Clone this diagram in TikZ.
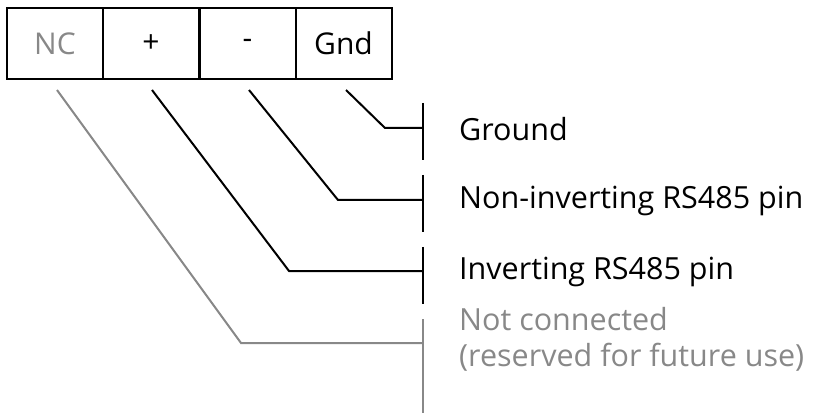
\documentclass[tikz,border=0pt]{standalone}
\usepackage{fontspec}
\setmainfont{Open Sans}
\definecolor{ncgray}{HTML}{888888}
\begin{document}
\begin{tikzpicture}[x=1pt,y=-1pt,
  cell/.style={draw=black,line width=2pt,minimum width=96pt,minimum height=71pt,
    inner sep=0pt,font=\fontsize{30}{36}\selectfont},
  lbl/.style={anchor=west,inner sep=0pt,align=left,font=\fontsize{30.5}{36}\selectfont},
  lead/.style={line width=2pt},
  bar/.style={line width=2pt}]
\useasboundingbox (0,0) rectangle (814,414);

% terminal block
\node[cell,text=ncgray] (c1) at (55,43.5) {NC};
\node[cell] (c2) at (151,43.5) {+};
\node[cell] (c3) at (247.5,43.5) {-};
\node[cell] (c4) at (343.5,43.5) {Gnd};

% lead start points under each terminal
\coordinate (s1) at (57,90);
\coordinate (s2) at (152,90);
\coordinate (s3) at (249,90);
\coordinate (s4) at (346,90);

% knees of the leads
\coordinate (k1) at (241,343);
\coordinate (k2) at (289,271);
\coordinate (k3) at (338,200);
\coordinate (k4) at (385,128);

% marker bars
\coordinate (b1t) at (423,319); \coordinate (b1b) at (423,413);
\coordinate (b2t) at (423,247); \coordinate (b2b) at (423,304);
\coordinate (b3t) at (423,175); \coordinate (b3b) at (423,232);
\coordinate (b4t) at (423,103); \coordinate (b4b) at (423,160);

% descriptions
\node[lbl] (l4) at (459,129) {Ground};
\node[lbl] (l3) at (459,201) {Non-inverting RS485 pin};
\node[lbl] (l2) at (459,272) {Inverting RS485 pin};
\node[lbl,text=ncgray] (l1) at (459,339) {Not connected\\(reserved for future use)};

% leads
\draw[lead] (s4) -- (k4) -- (k4 -| b4t);
\draw[lead] (s3) -- (k3) -- (k3 -| b3t);
\draw[lead] (s2) -- (k2) -- (k2 -| b2t);
\draw[lead,draw=ncgray] (s1) -- (k1) -- (k1 -| b1t);

% bars
\draw[bar] (b4t) -- (b4b);
\draw[bar] (b3t) -- (b3b);
\draw[bar] (b2t) -- (b2b);
\draw[bar,draw=ncgray] (b1t) -- (b1b);
\end{tikzpicture}
\end{document}
